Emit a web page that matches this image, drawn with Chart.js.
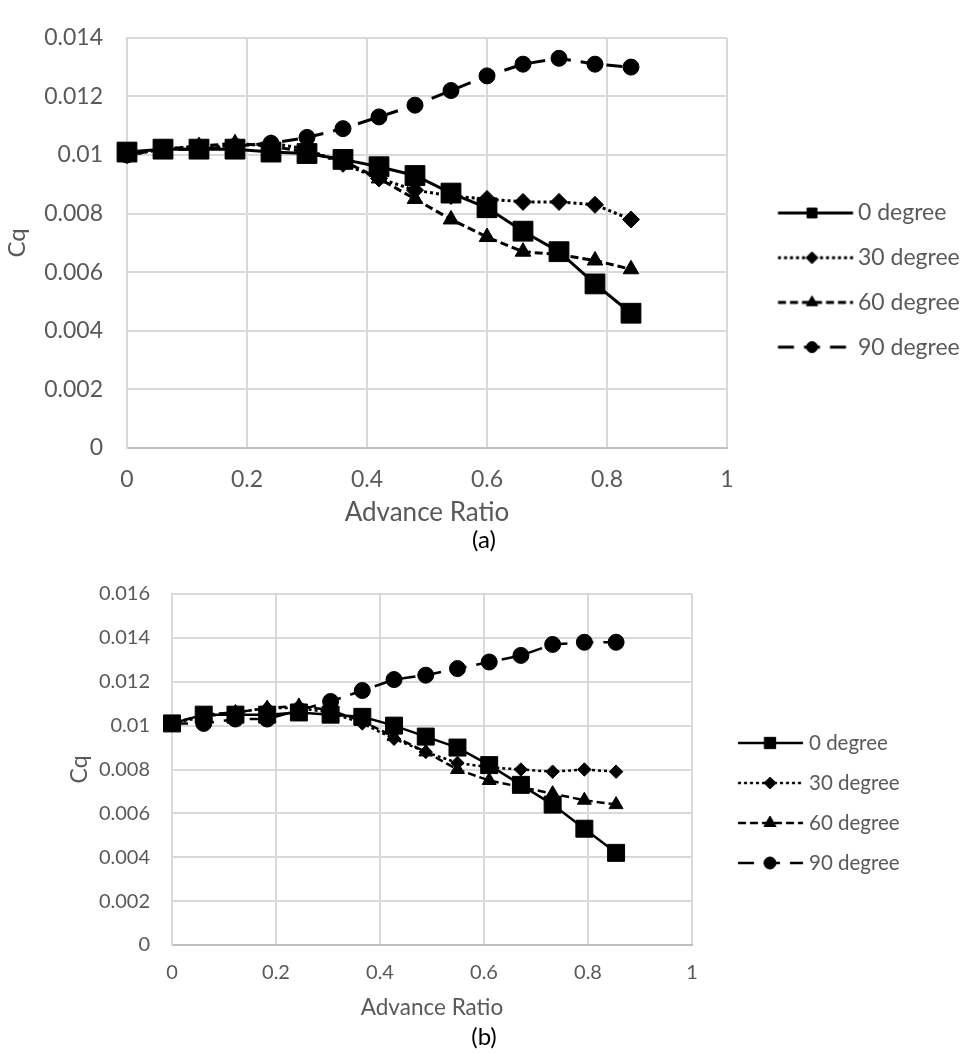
<!DOCTYPE html>
<html>
<head>
<meta charset="utf-8">
<script src="https://cdn.jsdelivr.net/npm/chart.js@4.4.1/dist/chart.umd.min.js"></script>
<style>
  html, body { margin: 0; padding: 0; background: #fff; overflow: hidden; }
  canvas { display: block; }
</style>
</head>
<body>
<canvas id="chartA" width="968" height="560"></canvas>
<canvas id="chartB" width="968" height="495"></canvas>
<script>
"use strict";

// ---- data, figure (a) ----
const advA  = [0, 0.06, 0.12, 0.18, 0.24, 0.30, 0.36, 0.42, 0.48, 0.54, 0.60, 0.66, 0.72, 0.78, 0.84];
const cq0A  = [0.0101, 0.0102, 0.0102, 0.0102, 0.0101, 0.01005, 0.00985, 0.0096, 0.0093, 0.0087, 0.0082, 0.0074, 0.0067, 0.0056, 0.0046];
const cq30A = [0.0100, 0.0102, 0.0103, 0.0103, 0.0104, 0.0102, 0.0097, 0.0092, 0.0088, 0.0086, 0.0085, 0.0084, 0.0084, 0.0083, 0.0078];
const cq60A = [0.0100, 0.0102, 0.0103, 0.0104, 0.0103, 0.0101, 0.0098, 0.0092, 0.0085, 0.0078, 0.0072, 0.0067, 0.0066, 0.0064, 0.0061];
const cq90A = [0.0100, 0.0102, 0.0102, 0.0103, 0.0104, 0.0106, 0.0109, 0.0113, 0.0117, 0.0122, 0.0127, 0.0131, 0.0133, 0.0131, 0.0130];

// ---- data, figure (b) ----
const advB  = [0, 0.061, 0.122, 0.183, 0.244, 0.305, 0.366, 0.427, 0.488, 0.549, 0.610, 0.671, 0.732, 0.793, 0.854];
const cq0B  = [0.0101, 0.0105, 0.0105, 0.0105, 0.0106, 0.0105, 0.0104, 0.0100, 0.0095, 0.0090, 0.0082, 0.0073, 0.0064, 0.0053, 0.0042];
const cq30B = [0.0101, 0.0104, 0.0106, 0.0108, 0.0108, 0.0106, 0.0101, 0.0094, 0.0088, 0.0083, 0.0081, 0.0080, 0.0079, 0.0080, 0.0079];
const cq60B = [0.0101, 0.0105, 0.0106, 0.0108, 0.0109, 0.0107, 0.0102, 0.0095, 0.0088, 0.0080, 0.0075, 0.0072, 0.0069, 0.0066, 0.0064];
const cq90B = [0.0101, 0.0101, 0.0103, 0.0103, 0.0107, 0.0111, 0.0116, 0.0121, 0.0123, 0.0126, 0.0129, 0.0132, 0.0137, 0.0138, 0.0138];

const seriesNames = ["0 degree", "30 degree", "60 degree", "90 degree"];
const xTickVals   = [0, 0.2, 0.4, 0.6, 0.8, 1];
const yTickValsA  = [0, 0.002, 0.004, 0.006, 0.008, 0.01, 0.012, 0.014];
const yTickValsB  = [0, 0.002, 0.004, 0.006, 0.008, 0.01, 0.012, 0.014, 0.016];

const FONT = "Lato, 'Open Sans', sans-serif";
const GREY = "#595959";
const GRID = "#d9d9d9";
const AXIS = "#bfbfbf";
const CANVAS_W = 968;

const SERIES_STYLE = [
  { pointStyle: "rect",     dash: []       },
  { pointStyle: "rectRot",  dash: [3, 3]   },
  { pointStyle: "triangle", dash: [8, 4]   },
  { pointStyle: "circle",   dash: [16, 10] },
];

const FIG_A = {
  canvas: "chartA", caption: "(a)",
  x: advA, series: [cq0A, cq30A, cq60A, cq90A], yTicks: yTickValsA,
  radii: [14, 8.5, 9, 8], legendRadii: [7, 6, 6.5, 5.5], lineWidth: 3,
  tickFont: 23, axisFont: 26, cqFont: 24, capFont: 24,
  plotTop: 18, plotLeft: 127, plotRight: 727,
  yLabelGap: 24, cqX: 17, xTickLen: 18, xTitlePad: 3.8, capPad: { top: 0, bottom: 7.4 },
  legend: { font: 23, pad: 21.7, line: [778, 853], marker: 812, textX: 858, firstY: 213 },
};

const FIG_B = {
  canvas: "chartB", caption: "(b)",
  x: advB, series: [cq0B, cq30B, cq60B, cq90B], yTicks: yTickValsB,
  radii: [12, 6.7, 8, 8], legendRadii: [8, 6, 7, 6], lineWidth: 2.5,
  tickFont: 20, axisFont: 22.5, cqFont: 23, capFont: 24,
  plotTop: 20, plotLeft: 172, plotRight: 692,
  yLabelGap: 22, cqX: 80, xTickLen: 16, xTitlePad: 9.5, capPad: { top: 3.5, bottom: 6 },
  legend: { font: 20.5, pad: 19.5, line: [738, 803], marker: 770, textX: 809, firstY: 183 },
};

function fmt(v) {
  return String(parseFloat(Number(v).toFixed(4)));
}

// little line + marker sample used as the legend's point style
function legendGlyph(ds, from, to, at, r) {
  const half = Math.ceil(Math.max(-from, to)) + 2;
  const c = document.createElement("canvas");
  c.width = half * 2;
  c.height = 30;
  const ctx = c.getContext("2d");
  ctx.strokeStyle = "#000";
  ctx.fillStyle = "#000";
  ctx.lineWidth = ds.borderWidth;
  ctx.setLineDash(ds.borderDash);
  ctx.beginPath();
  ctx.moveTo(half + from, 15);
  ctx.lineTo(half + to, 15);
  ctx.stroke();
  ctx.setLineDash([]);
  ctx.lineWidth = 1;
  Chart.helpers.drawPoint(ctx, { pointStyle: ds.pointStyle, radius: r, borderWidth: 1, rotation: 0 }, half + at, 15);
  return c;
}

function buildFigure(fig) {
  const lg = fig.legend;

  const datasets = fig.series.map((vals, i) => ({
    label: seriesNames[i],
    data: vals.map((y, k) => ({ x: fig.x[k], y })),
    borderColor: "#000",
    backgroundColor: "#000",
    pointBackgroundColor: "#000",
    pointBorderColor: "#000",
    borderWidth: fig.lineWidth,
    borderDash: SERIES_STYLE[i].dash,
    pointStyle: SERIES_STYLE[i].pointStyle,
    pointRadius: fig.radii[i],
    pointHoverRadius: fig.radii[i],
    pointBorderWidth: 1,
    tension: 0,
    fill: false,
    clip: false,
  }));

  // legend geometry
  const boxStart = fig.plotRight + lg.pad;
  const boxW = lg.textX - lg.font / 2 - boxStart;
  const cx = boxStart + boxW / 2;
  const glyphs = datasets.map((ds, i) =>
    legendGlyph(ds, lg.line[0] - cx, lg.line[1] - cx, lg.marker - cx, fig.legendRadii[i]));

  const meas = document.createElement("canvas").getContext("2d");
  meas.font = `${lg.font}px ${FONT}`;
  const widest = Math.max(...seriesNames.map((s) => meas.measureText(s).width));
  const legendRoom = CANVAS_W - fig.plotRight;
  const legendW = Math.min(lg.pad + boxW + lg.font / 2 + widest + 10, legendRoom);
  const sidePad = Math.max(0, legendRoom - legendW);
  const spacer = lg.firstY - lg.font / 2 - lg.pad - fig.plotTop;

  new Chart(document.getElementById(fig.canvas), {
    type: "line",
    data: { datasets },
    options: {
      responsive: false,
      animation: false,
      events: [],
      layout: {
        autoPadding: false,
        padding: { top: fig.plotTop, right: sidePad, bottom: 0, left: sidePad },
      },
      plugins: {
        tooltip: { enabled: false },
        title: {
          display: true,
          position: "bottom",
          text: fig.caption,
          color: "#000",
          font: { family: FONT, size: fig.capFont, weight: "normal", lineHeight: 1 },
          padding: fig.capPad,
        },
        legend: {
          position: "right",
          align: "start",
          maxWidth: legendRoom,
          title: {
            display: true,
            text: " ",
            font: { size: 1, lineHeight: 1 },
            padding: { top: spacer - 1, bottom: 0 },
          },
          labels: {
            usePointStyle: true,
            pointStyleWidth: boxW,
            padding: lg.pad,
            color: GREY,
            font: { family: FONT, size: lg.font },
            generateLabels: (chart) =>
              Chart.defaults.plugins.legend.labels.generateLabels(chart)
                .map((item, i) => ({ ...item, pointStyle: glyphs[i] })),
          },
        },
      },
      scales: {
        x: {
          type: "linear",
          min: 0,
          max: 1,
          afterBuildTicks: (s) => { s.ticks = xTickVals.map((v) => ({ value: v })); },
          ticks: { color: GREY, font: { family: FONT, size: fig.tickFont }, padding: 0, maxRotation: 0, callback: fmt },
          grid: { color: GRID, lineWidth: 2, drawTicks: true, tickLength: fig.xTickLen, tickColor: "rgba(0,0,0,0)" },
          border: { color: AXIS, width: 2 },
          title: {
            display: true,
            text: "Advance Ratio",
            color: GREY,
            font: { family: FONT, size: fig.axisFont },
            padding: { top: fig.xTitlePad, bottom: 0 },
          },
        },
        y: {
          type: "linear",
          min: 0,
          max: fig.yTicks[fig.yTicks.length - 1],
          afterBuildTicks: (s) => { s.ticks = fig.yTicks.map((v) => ({ value: v })); },
          afterFit: (s) => { s.width = fig.plotLeft - sidePad; },
          ticks: { color: GREY, font: { family: FONT, size: fig.tickFont }, padding: fig.yLabelGap, callback: fmt },
          grid: { color: GRID, lineWidth: 2, drawTicks: false },
          border: { color: GRID, width: 2 },
          title: {
            display: true,
            text: "Cq",
            color: GREY,
            font: { family: FONT, size: fig.cqFont },
            padding: { top: fig.cqX - sidePad - fig.cqFont * 0.6, bottom: 0 },
          },
        },
      },
    },
  });
}

buildFigure(FIG_A);
buildFigure(FIG_B);
</script>
</body>
</html>
